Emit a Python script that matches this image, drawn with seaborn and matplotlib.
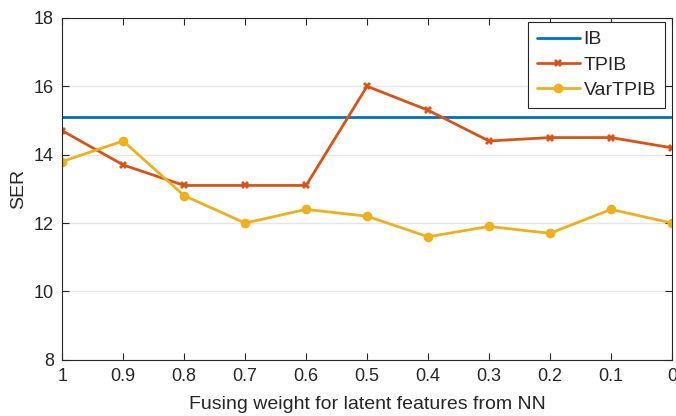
import matplotlib
matplotlib.use("Agg")
import matplotlib.pyplot as plt
import seaborn as sns
import pandas as pd

weights = [1.0, 0.9, 0.8, 0.7, 0.6, 0.5, 0.4, 0.3, 0.2, 0.1, 0.0]
tick_labels = ["1", "0.9", "0.8", "0.7", "0.6", "0.5", "0.4", "0.3", "0.2", "0.1", "0"]
ib = [15.1] * 11
tpib = [14.7, 13.7, 13.1, 13.1, 13.1, 16.0, 15.3, 14.4, 14.5, 14.5, 14.2]
vartpib = [13.8, 14.4, 12.8, 12.0, 12.4, 12.2, 11.6, 11.9, 11.7, 12.4, 12.0]

sns.set_theme(style="white")
plt.rcParams['font.family'] = ['Liberation Sans', 'DejaVu Sans']

fig, ax = plt.subplots(figsize=(6.76, 4.16), dpi=100)
fig.subplots_adjust(left=0.092, right=0.994, top=0.957, bottom=0.135)

df = pd.DataFrame({"w": weights, "IB": ib, "TPIB": tpib, "VarTPIB": vartpib})
sns.lineplot(data=df, x="w", y="IB", ax=ax, color="#0072BD", lw=2.0, label="IB")
sns.lineplot(data=df, x="w", y="TPIB", ax=ax, color="#D95319", lw=2.0, marker="X",
             markersize=6, markeredgewidth=0, label="TPIB")
sns.lineplot(data=df, x="w", y="VarTPIB", ax=ax, color="#EDB120", lw=2.0, marker="o",
             markersize=7, markeredgewidth=0, label="VarTPIB")

ax.set_xlim(1, 0)
ax.set_ylim(8, 18)
ax.set_xticks(weights)
ax.set_xticklabels(tick_labels)
ax.set_yticks([8, 10, 12, 14, 16, 18])
ax.yaxis.grid(True, color="#e6e6e6", lw=1.0)
ax.xaxis.grid(False)
ax.set_axisbelow(True)
for s in ax.spines.values():
    s.set_color("#262626")
    s.set_linewidth(0.8)
ax.tick_params(direction="in", top=True, right=True, length=5, width=0.8,
               colors="#262626", labelsize=13, pad=6, bottom=True, left=True)
ax.set_xlabel("Fusing weight for latent features from NN", fontsize=14, color="#262626",
              labelpad=8)
ax.set_ylabel("SER", fontsize=14, color="#262626", labelpad=5)

leg = ax.legend(loc="upper right", fontsize=14, frameon=True, fancybox=False,
                edgecolor="#262626", framealpha=1, handlelength=2.2,
                bbox_to_anchor=(0.988, 0.988), borderaxespad=0.0,
                labelspacing=0.4, handletextpad=0.2, borderpad=0.45)
leg.get_frame().set_linewidth(0.8)

fig.savefig("out.png", dpi=100)
